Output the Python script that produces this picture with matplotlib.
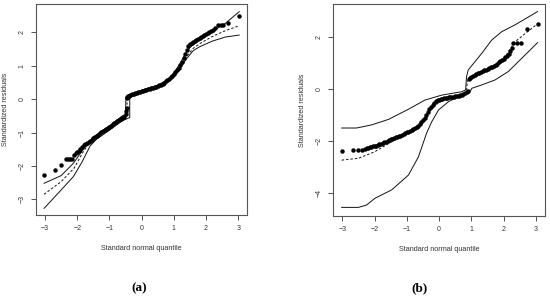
import numpy as np
import matplotlib
matplotlib.use("Agg")
import matplotlib.pyplot as plt

# ---- panel (a): residual points (normal quantile, standardized residual)
a_px = [-3.03, -2.68, -2.50, -2.36, -2.30, -2.24, -2.17, -2.10,
        -2.05, -2.00, -1.95, -1.90, -1.85, -1.80, -1.75, -1.70, -1.65, -1.60,
        -1.55, -1.50, -1.45, -1.40, -1.35, -1.30, -1.25, -1.20, -1.15, -1.10,
        -1.05, -1.00, -0.95, -0.90, -0.85, -0.80, -0.75, -0.70, -0.65, -0.60,
        -0.55, -0.50, -0.48, -0.47, -0.46, -0.45, -0.43,
        -0.40, -0.35, -0.30, -0.25, -0.20, -0.15, -0.10, -0.05, 0.00, 0.05,
        0.10, 0.15, 0.20, 0.25, 0.30, 0.35, 0.40, 0.45, 0.50, 0.55, 0.60,
        0.65, 0.70, 0.75, 0.80, 0.85, 0.90, 0.95, 1.00, 1.05, 1.10, 1.15,
        1.20, 1.25, 1.30, 1.35, 1.40, 1.45, 1.50, 1.55, 1.60, 1.65, 1.70,
        1.75, 1.80, 1.85, 1.90, 1.95, 2.00, 2.05, 2.10, 2.15, 2.20,
        2.27, 2.37, 2.45, 2.53, 2.68, 3.02]
a_py = [-2.27, -2.11, -1.98, -1.79, -1.79, -1.79, -1.78, -1.67,
        -1.62, -1.58, -1.54, -1.49, -1.44, -1.38, -1.33, -1.30, -1.27, -1.24,
        -1.21, -1.17, -1.14, -1.10, -1.06, -1.02, -0.99, -0.96, -0.93, -0.89,
        -0.86, -0.83, -0.79, -0.75, -0.71, -0.67, -0.64, -0.62, -0.60, -0.57,
        -0.53, -0.45, -0.35, -0.28, 0.02, 0.06, 0.08,
        0.10, 0.12, 0.14, 0.15, 0.17, 0.18, 0.20, 0.22, 0.24, 0.25,
        0.27, 0.28, 0.30, 0.31, 0.33, 0.34, 0.36, 0.37, 0.39, 0.41, 0.43,
        0.46, 0.49, 0.53, 0.57, 0.61, 0.65, 0.70, 0.74, 0.80, 0.86, 0.93,
        1.02, 1.12, 1.24, 1.36, 1.48, 1.58, 1.65, 1.69, 1.72, 1.75, 1.78,
        1.81, 1.84, 1.87, 1.90, 1.93, 1.96, 1.98, 2.00, 2.03, 2.06,
        2.12, 2.21, 2.22, 2.22, 2.27, 2.49]

# envelope (a)
a_up_x = [-3.03, -2.50, -2.12, -1.75, -1.50, -1.00, -0.60, -0.50, -0.49, -0.42,
          0.00, 0.50, 0.80, 1.00, 1.20, 1.35, 1.50, 1.80, 2.20, 2.60, 3.03]
a_up_y = [-2.52, -2.29, -1.92, -1.42, -1.13, -0.80, -0.50, -0.45, 0.05, 0.12,
          0.27, 0.42, 0.58, 0.78, 1.08, 1.35, 1.55, 1.78, 2.03, 2.27, 2.62]
a_md_x = [-3.03, -2.50, -2.10, -1.80, -1.60, -1.00, -0.60, -0.46, -0.45, -0.40,
          0.00, 0.50, 0.80, 1.00, 1.20, 1.40, 1.60, 1.80, 2.20, 2.60, 3.03]
a_md_y = [-2.85, -2.47, -2.07, -1.55, -1.30, -0.87, -0.56, -0.50, 0.04, 0.08,
          0.24, 0.38, 0.55, 0.72, 0.98, 1.28, 1.52, 1.66, 1.88, 2.05, 2.20]
a_lo_x = [-3.03, -2.50, -2.12, -1.85, -1.60, -1.40, -1.00, -0.60, -0.37, -0.37,
          -0.30, 0.00, 0.50, 0.80, 1.00, 1.20, 1.40, 1.60, 1.80, 2.20, 2.60, 3.03]
a_lo_y = [-3.27, -2.72, -2.32, -1.88, -1.40, -1.20, -0.93, -0.65, -0.55, 0.02,
          0.07, 0.20, 0.35, 0.50, 0.66, 0.92, 1.22, 1.45, 1.57, 1.74, 1.86, 1.92]

# ---- panel (b)
b_px = [-3.02, -2.68, -2.50, -2.38,
        -2.30, -2.25, -2.20, -2.15, -2.10, -2.05, -2.00, -1.95, -1.90, -1.85,
        -1.80, -1.75, -1.70, -1.65, -1.60, -1.55, -1.50, -1.45, -1.40, -1.35,
        -1.30, -1.25, -1.20, -1.15, -1.10, -1.05, -1.00, -0.95, -0.90, -0.85,
        -0.80, -0.75, -0.70, -0.65, -0.60, -0.55, -0.50, -0.45, -0.40, -0.35,
        -0.30, -0.25, -0.20, -0.15, -0.10, -0.05, 0.00, 0.05, 0.10, 0.15,
        0.20, 0.25, 0.30, 0.35, 0.40, 0.45, 0.50, 0.55, 0.60, 0.65, 0.70,
        0.75, 0.80, 0.85, 0.88,
        0.93, 0.97, 1.00, 1.05, 1.10, 1.15, 1.20, 1.25, 1.30, 1.35, 1.40,
        1.45, 1.50, 1.55, 1.60, 1.65, 1.70, 1.75, 1.80, 1.85, 1.90, 1.95,
        2.00, 2.05, 2.10, 2.15, 2.20, 2.25, 2.30, 2.40, 2.54, 2.71, 3.05]
b_py = [-2.37, -2.33, -2.33, -2.33,
        -2.30, -2.28, -2.26, -2.24, -2.22, -2.20, -2.19, -2.17, -2.15, -2.12,
        -2.10, -2.07, -2.05, -2.02, -2.00, -1.97, -1.94, -1.91, -1.89, -1.86,
        -1.84, -1.81, -1.79, -1.76, -1.73, -1.70, -1.67, -1.64, -1.61, -1.58,
        -1.55, -1.51, -1.46, -1.41, -1.35, -1.28, -1.20, -1.12, -1.02, -0.90,
        -0.79, -0.69, -0.61, -0.54, -0.48, -0.44, -0.41, -0.39, -0.37, -0.36,
        -0.35, -0.34, -0.33, -0.32, -0.31, -0.30, -0.29, -0.28, -0.26, -0.24,
        -0.22, -0.20, -0.17, -0.13, -0.09,
        0.37, 0.42, 0.45, 0.49, 0.53, 0.56, 0.59, 0.62, 0.65, 0.68, 0.71,
        0.74, 0.77, 0.80, 0.82, 0.85, 0.88, 0.92, 0.96, 1.01, 1.07, 1.12,
        1.15, 1.21, 1.27, 1.35, 1.45, 1.58, 1.74, 1.74, 1.77, 2.29, 2.49]

b_up_x = [-3.02, -2.56, -2.09, -1.57, -0.95, -0.44, 0.08, 0.70, 0.82, 0.85,
          0.90, 1.11, 1.32, 1.63, 1.94, 2.35, 3.05]
b_up_y = [-1.50, -1.50, -1.38, -1.17, -0.78, -0.43, -0.24, -0.11, -0.04, 0.47,
          0.72, 1.04, 1.36, 1.87, 2.19, 2.45, 2.96]
b_md_x = [-3.02, -2.50, -2.00, -1.60, -1.20, -0.80, -0.50, -0.20, 0.20, 0.60,
          0.85, 0.87, 1.00, 1.50, 2.00, 2.35, 2.70, 3.05]
b_md_y = [-2.73, -2.66, -2.41, -2.12, -1.85, -1.58, -1.25, -0.68, -0.38, -0.28,
          -0.15, 0.30, 0.42, 0.74, 1.15, 1.80, 2.15, 2.49]
b_lo_x = [-3.02, -2.50, -2.25, -1.99, -1.47, -0.95, -0.64, -0.39, -0.23, -0.02,
          0.29, 0.70, 0.96, 1.01, 1.32, 1.73, 2.14, 2.56, 3.05]
b_lo_y = [-4.54, -4.54, -4.45, -4.19, -3.87, -3.30, -2.60, -1.70, -1.26, -0.81,
          -0.49, -0.24, -0.11, 0.02, 0.15, 0.34, 0.66, 1.17, 1.77]

a_xticks = [-3, -2, -1, 0, 1, 2, 3]
a_yticks = [-3, -2, -1, 0, 1, 2]
b_xticks = [-3, -2, -1, 0, 1, 2, 3]
b_yticks = [-4, -2, 0, 2]

plt.rcParams['font.family'] = ['Liberation Sans', 'DejaVu Sans']

fig = plt.figure(figsize=(5.5, 3.0), dpi=100)
ax1 = fig.add_axes([0.0655, 0.2833, 0.3841, 0.7034])
ax2 = fig.add_axes([0.606, 0.28, 0.3849, 0.7067])

fg = '#333333'
lw = 0.7


def style(ax, xt, yt, xlim, ylim):
    ax.set_xlim(*xlim)
    ax.set_ylim(*ylim)
    ax.set_xticks(xt)
    ax.set_yticks(yt)
    ax.set_xticklabels([str(v).replace('-', '\u2212') for v in xt])
    ax.set_yticklabels([str(v).replace('-', '\u2212') for v in yt],
                       rotation=90, va='center')
    ax.tick_params(direction='out', length=3.5, width=0.6, colors=fg,
                   labelsize=5, pad=4)
    for s in ax.spines.values():
        s.set_color('#555555')
        s.set_linewidth(0.8)
    ax.set_xlabel('Standard normal quantile', fontsize=5.2, color=fg, labelpad=9)
    ax.set_ylabel('Standardized residuals', fontsize=5.2, color=fg, labelpad=7)


for ax, px, py, ux, uy, mx, my, lx, ly in [
        (ax1, a_px, a_py, a_up_x, a_up_y, a_md_x, a_md_y, a_lo_x, a_lo_y),
        (ax2, b_px, b_py, b_up_x, b_up_y, b_md_x, b_md_y, b_lo_x, b_lo_y)]:
    ax.plot(ux, uy, color='#111111', lw=lw)
    ax.plot(lx, ly, color='#111111', lw=lw)
    ax.plot(mx, my, color='#111111', lw=lw, ls=(0, (2.5, 2)))
    ax.plot(px, py, 'o', color='black', ms=3.2, mec='none')

style(ax1, a_xticks, a_yticks, (-3.28, 3.28), (-3.47, 2.85))
style(ax2, b_xticks, b_yticks, (-3.28, 3.28), (-4.87, 3.25))

fig.text(139 / 550, 1 - 288 / 300, '(a)', ha='center', va='center',
         fontsize=9.5, fontweight='bold', family='Liberation Serif')
fig.text(419 / 550, 1 - 288 / 300, '(b)', ha='center', va='center',
         fontsize=9.5, fontweight='bold', family='Liberation Serif')

fig.savefig('out.png', dpi=100)
